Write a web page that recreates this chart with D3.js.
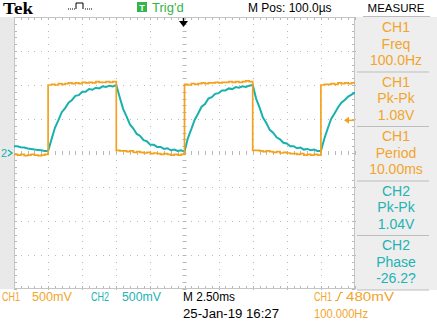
<!DOCTYPE html>
<html><head><meta charset="utf-8">
<script src="https://cdn.jsdelivr.net/npm/d3@7"></script>
<style>
html,body{margin:0;padding:0;background:#fff;}
svg{display:block;}
</style></head>
<body><svg id="c" width="437" height="328" font-family="'Liberation Sans',Arial,sans-serif"></svg>
<script>
// ---- data (time in ms, volts) ----
const timeStart = -12.5, timeStep = 0.25;
const ch1Values = [
 -0.02,-0.03,-0.02,-0.04,-0.03,-0.02,-0.03,-0.04,-0.03,-0.02,
 1.00,1.01,1.00,1.02,1.01,1.02,1.03,1.02,1.03,1.02,1.04,1.03,1.04,1.03,1.05,1.04,1.04,1.05,1.04,1.05,
 0.04,0.03,0.03,0.02,0.03,0.01,0.02,0.01,0.00,0.01,-0.01,0.00,-0.01,-0.02,-0.01,-0.02,-0.03,-0.02,-0.03,-0.02,
 1.01,1.00,1.02,1.01,1.02,1.03,1.02,1.03,1.03,1.04,1.03,1.04,1.04,1.05,1.04,1.05,1.04,1.05,1.06,1.05,
 0.04,0.04,0.03,0.02,0.03,0.02,0.01,0.02,0.00,0.01,0.00,-0.01,-0.01,-0.02,-0.01,-0.03,-0.02,-0.03,-0.02,-0.03,
 1.00,1.01,1.01,1.02,1.01,1.03,1.02,1.03,1.02,1.03,1.03
];
const ch2Values = [
 0.10,0.10,0.085,0.08,0.065,0.06,0.05,0.045,0.04,0.03,0.03,
 0.20,0.37,0.48,0.60,0.66,0.74,0.78,0.84,0.85,0.90,0.90,0.94,0.93,0.96,0.95,0.98,0.97,0.99,0.98,1.00,
 0.82,0.65,0.54,0.42,0.36,0.28,0.25,0.19,0.17,0.12,0.12,0.09,0.09,0.06,0.07,0.04,0.05,0.03,0.04,0.02,
 0.22,0.35,0.49,0.58,0.68,0.72,0.80,0.82,0.87,0.88,0.92,0.92,0.95,0.94,0.97,0.96,0.98,0.97,0.99,1.00,
 0.80,0.67,0.52,0.44,0.34,0.30,0.23,0.20,0.15,0.14,0.10,0.10,0.07,0.08,0.05,0.06,0.04,0.05,0.03,0.03,
 0.21,0.36,0.50,0.58,0.67,0.74,0.78,0.83,0.86,0.89
];
const measureBlocks = [
 {ch:"CH1", name:"Freq",   value:"100.0Hz"},
 {ch:"CH1", name:"Pk-Pk",  value:"1.08V"},
 {ch:"CH1", name:"Period", value:"10.00ms"},
 {ch:"CH2", name:"Pk-Pk",  value:"1.04V"},
 {ch:"CH2", name:"Phase",  value:"-26.2?"}
];
const timeDomain = [-12.5, 12.5];   // 2.5 ms/div, 10 div
const voltDomain = [-2, 2];         // 500 mV/div, 8 div
const triggerLevel = 0.48;

const C1 = "#f4a21e", C2 = "#19b1ad", TXT1 = "#f2a52c", TXT2 = "#22b3b3", GRN = "#34b44a";

const svg = d3.select("#c");
const L = 14, R = 355, T = 17, B = 289;
const x = d3.scaleLinear().domain(timeDomain).range([L, R]);
const y = d3.scaleLinear().domain(voltDomain).range([B, T]);

// backgrounds
svg.append("rect").attr("x",0).attr("y",0).attr("width",437).attr("height",328).attr("fill","#fff");
svg.append("rect").attr("x",0).attr("y",T).attr("width",L).attr("height",B-T).attr("fill","#e9e9e9");
svg.append("rect").attr("x",R).attr("y",T).attr("width",437-R).attr("height",B-T+1).attr("fill","#eeeeee");
svg.append("rect").attr("x",L).attr("y",T).attr("width",R-L).attr("height",B-T).attr("fill","#fff");

// graticule
const g = svg.append("g");
const majX = d3.range(timeDomain[0], timeDomain[1]+0.001, 2.5);
const majY = d3.range(voltDomain[0], voltDomain[1]+0.001, 0.5);
const minX = d3.range(timeDomain[0], timeDomain[1]+0.001, 0.5);
const minY = d3.range(voltDomain[0], voltDomain[1]+0.001, 0.1);
const GC = "#b8b8b8";
majX.slice(1,-1).forEach(t=>{
  minY.forEach(v=>{ g.append("rect").attr("x",Math.round(x(t))).attr("y",Math.round(y(v))).attr("width",1).attr("height",1).attr("fill",GC); });
});
majY.slice(1,-1).forEach(v=>{
  minX.forEach(t=>{ g.append("rect").attr("x",Math.round(x(t))).attr("y",Math.round(y(v))).attr("width",1).attr("height",1).attr("fill",GC); });
});
minX.forEach(t=>{ g.append("line").attr("x1",Math.round(x(t))+0.5).attr("x2",Math.round(x(t))+0.5).attr("y1",y(0)-2).attr("y2",y(0)+2).attr("stroke",GC); });
minY.forEach(v=>{ g.append("line").attr("y1",Math.round(y(v))+0.5).attr("y2",Math.round(y(v))+0.5).attr("x1",x(0)-2).attr("x2",x(0)+2).attr("stroke",GC); });
minX.forEach(t=>{
  g.append("line").attr("x1",Math.round(x(t))+0.5).attr("x2",Math.round(x(t))+0.5).attr("y1",T).attr("y2",T+3).attr("stroke",GC);
  g.append("line").attr("x1",Math.round(x(t))+0.5).attr("x2",Math.round(x(t))+0.5).attr("y1",B-3).attr("y2",B).attr("stroke",GC);
});
minY.forEach(v=>{
  g.append("line").attr("y1",Math.round(y(v))+0.5).attr("y2",Math.round(y(v))+0.5).attr("x1",L).attr("x2",L+3).attr("stroke",GC);
  g.append("line").attr("y1",Math.round(y(v))+0.5).attr("y2",Math.round(y(v))+0.5).attr("x1",R-3).attr("x2",R).attr("stroke",GC);
});
g.append("rect").attr("x",L+0.5).attr("y",T+0.5).attr("width",R-L-1).attr("height",B-T-1).attr("fill","none").attr("stroke","#c4c4c4");

// traces
const ch1 = ch1Values.map((v,i)=>[timeStart+i*timeStep, v]);
const ch2 = ch2Values.map((v,i)=>[timeStart+i*timeStep, v]);
svg.append("clipPath").attr("id","pc").append("rect").attr("x",L).attr("y",T).attr("width",R-L).attr("height",B-T);
const lineStep = d3.line().x(d=>x(d[0])).y(d=>y(d[1])).curve(d3.curveStepAfter);
const lineLin = d3.line().x(d=>x(d[0])).y(d=>y(d[1]));
svg.append("path").attr("d",lineLin(ch2)).attr("fill","none").attr("stroke",C2).attr("stroke-width",2).attr("clip-path","url(#pc)");
svg.append("path").attr("d",lineStep(ch1)).attr("fill","none").attr("stroke",C1).attr("stroke-width",1.7).attr("clip-path","url(#pc)");

// markers
const gy = y(0);
svg.append("text").attr("x",1).attr("y",gy+4).attr("font-size",11).attr("fill",C2).text("2");
svg.append("path").attr("d",`M8,${gy-3} L12,${gy} L8,${gy+3}`).attr("fill","none").attr("stroke",C2).attr("stroke-width",1.4);
const ty = y(triggerLevel);
svg.append("path").attr("d",`M344,${ty} L349,${ty-3.5} L349,${ty+3.5} Z`).attr("fill",C1);
svg.append("line").attr("x1",348).attr("x2",354).attr("y1",ty).attr("y2",ty).attr("stroke",C1).attr("stroke-width",1.5);
const tx = x(0) - 1;
svg.append("line").attr("x1",tx).attr("x2",tx).attr("y1",T+1).attr("y2",T+5).attr("stroke","#000").attr("stroke-width",1.5);
svg.append("path").attr("d",`M${tx-4.5},${T+4} L${tx+4.5},${T+4} L${tx},${T+10} Z`).attr("fill","#000");

// top bar
svg.append("text").attr("x",3).attr("y",13.5).style("font-family","'Liberation Serif','Times New Roman',serif").attr("font-weight","bold").attr("font-size",16).attr("fill","#000").attr("textLength",30).attr("lengthAdjust","spacingAndGlyphs").text("Tek");
svg.append("path").attr("d","M76,9 L76,3 L83,3 L83,9").attr("fill","none").attr("stroke","#000").attr("stroke-width",1);
[68,70,72,74,85,87,89,91].forEach(px=>svg.append("rect").attr("x",px).attr("y",8.5).attr("width",1).attr("height",1).attr("fill","#000"));
svg.append("rect").attr("x",137).attr("y",2).attr("width",10).attr("height",10).attr("fill",GRN);
svg.append("text").attr("x",142).attr("y",10.5).attr("text-anchor","middle").attr("font-size",9).attr("font-weight","bold").attr("fill","#fff").text("T");
svg.append("text").attr("x",152).attr("y",12).attr("font-size",13).attr("fill",GRN).text("Trig'd");
svg.append("text").attr("x",248).attr("y",12).attr("font-size",12).attr("fill","#000").text("M Pos: 100.0µs");
svg.append("text").attr("x",396).attr("y",12).attr("text-anchor","middle").attr("font-size",11.5).attr("fill","#000").text("MEASURE");
svg.append("line").attr("x1",363).attr("x2",430).attr("y1",16.5).attr("y2",16.5).attr("stroke","#bdbdbd");

// measure panel
const bh = 54.5;
measureBlocks.forEach((m,i)=>{
  const top = T + i*bh;
  const col = m.ch==="CH1" ? TXT1 : TXT2;
  [m.ch, m.name, m.value].forEach((s,j)=>{
    svg.append("text").style("font-family","'Liberation Sans Narrow','Liberation Sans',Arial,sans-serif").attr("x",396).attr("y",top+15+j*16.5).attr("text-anchor","middle").attr("font-size",14).attr("fill",col).text(s);
  });
  svg.append("line").attr("x1",357).attr("x2",429).attr("y1",top+bh+0.5).attr("y2",top+bh+0.5).attr("stroke","#bdbdbd");
});

// bottom bar
function bt(xp, yp, s, col, w){
  const t = svg.append("text").attr("x",xp).attr("y",yp).attr("font-size",12).attr("fill",col).text(s);
  if (w) t.attr("textLength",w).attr("lengthAdjust","spacingAndGlyphs");
}
bt(2,301,"CH1",TXT1,18);
bt(32,301,"500mV",TXT1,40);
bt(91,301,"CH2",TXT2,18);
bt(122,301,"500mV",TXT2,39);
bt(183,301,"M 2.50ms","#000",52);
bt(183,318,"25-Jan-19 16:27","#000",96);
bt(314,301,"CH1",TXT1,18);
svg.append("path").attr("d","M335,300.5 L337.5,300.5 L340.5,292.5 L343,292.5").attr("fill","none").attr("stroke",TXT1).attr("stroke-width",1.2);
bt(346,301,"480mV",TXT1,48);
bt(314,318,"100.000Hz",TXT1,54);
</script></body></html>
